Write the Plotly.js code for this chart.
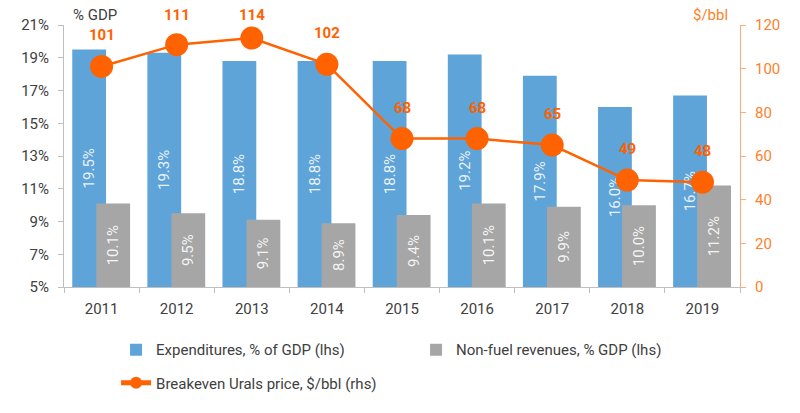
<!DOCTYPE html>
<html>
<head>
<meta charset="utf-8">
<script src="https://cdn.plot.ly/plotly-3.0.1.min.js"></script>
<style>
  html, body { margin: 0; padding: 0; background: #fff; }
  #chart { width: 800px; height: 413px; }
</style>
</head>
<body>
<div id="chart"></div>
<script>
var years = ["2011", "2012", "2013", "2014", "2015", "2016", "2017", "2018", "2019"];
var expenditures = [19.5, 19.3, 18.8, 18.8, 18.8, 19.2, 17.9, 16.0, 16.7];
var nonFuel = [10.1, 9.5, 9.1, 8.9, 9.4, 10.1, 9.9, 10.0, 11.2];
var breakeven = [101, 111, 114, 102, 68, 68, 65, 49, 48];

var blue = "#5FA4D9";
var grey = "#A6A6A6";
var orange = "#FF6200";
var font = "Roboto, 'Noto Sans', sans-serif";

var leftMin = 5, leftMax = 21, rightMax = 120;
var H = 413, marginT = 25, marginB = 126;
var plotH = H - marginT - marginB;

function pct(v) { return v.toFixed(1) + "%"; }

// bars start at the axis floor so their labels sit in the visible part
var barBase = leftMin;

var traces = [
    {
        type: "bar",
        name: "Expenditures, % of GDP (lhs)",
        x: years,
        y: expenditures.map(function (v) { return v - barBase; }),
        base: barBase,
        width: 0.45,
        offset: -0.39,
        marker: { color: blue },
        text: expenditures.map(pct),
        textposition: "inside",
        insidetextanchor: "middle",
        textangle: -90,
        constraintext: "none",
        textfont: { color: "rgba(255,255,255,0.88)", size: 15, family: font },
        legend: "legend",
    },
    {
        type: "bar",
        name: "Non-fuel revenues, % GDP (lhs)",
        x: years,
        y: nonFuel.map(function (v) { return v - barBase; }),
        base: barBase,
        width: 0.45,
        offset: -0.07,
        marker: { color: grey },
        text: nonFuel.map(pct),
        textposition: "inside",
        insidetextanchor: "middle",
        textangle: -90,
        constraintext: "none",
        textfont: { color: "rgba(255,255,255,0.9)", size: 15, family: font },
        legend: "legend",
    },
    {
        type: "scatter",
        mode: "lines+markers",
        name: "Breakeven Urals price, $/bbl (rhs)",
        x: years,
        y: breakeven,
        yaxis: "y2",
        line: { color: orange, width: 2.5 },
        marker: { color: orange, size: 23 },
        legend: "legend2",
    },
];

// value labels above the markers, kept below the top edge
var annotations = years.map(function (yr, i) {
    var px = marginT + (rightMax - breakeven[i]) / rightMax * plotH;
    return {
        x: i,
        y: breakeven[i],
        xref: "x",
        yref: "y2",
        text: String(breakeven[i]),
        showarrow: false,
        yshift: Math.min(31, px - 15),
        font: { color: orange, size: 15, family: font, weight: "bold" },
    };
});
annotations.push({
    xref: "paper", yref: "paper", x: 0.01, y: 1.04,
    xanchor: "left", yanchor: "middle", showarrow: false,
    text: "% GDP", font: { color: "#404040", size: 15, family: font },
});
annotations.push({
    xref: "paper", yref: "paper", x: 0.985, y: 1.04,
    xanchor: "right", yanchor: "middle", showarrow: false,
    text: "$/bbl", font: { color: "#FF7F2A", size: 15, family: font },
});

var layout = {
    width: 800,
    height: H,
    margin: { l: 64, r: 60, t: marginT, b: marginB },
    paper_bgcolor: "#fff",
    plot_bgcolor: "#fff",
    barmode: "overlay",
    font: { family: font, color: "#404040", size: 15 },
    xaxis: {
        type: "category",
        categoryarray: years,
        range: [-0.5, years.length - 0.5],
        showline: true,
        linecolor: "#BFBFBF",
        ticks: "outside",
        tickson: "boundaries",
        ticklen: 5,
        tickcolor: "#BFBFBF",
        showgrid: false,
        tickangle: 0,
        ticklabelstandoff: 8,
        tickfont: { size: 15, color: "#404040" },
    },
    yaxis: {
        range: [leftMin, leftMax],
        tick0: 5,
        dtick: 2,
        ticksuffix: "%",
        showgrid: false,
        zeroline: false,
        showline: true,
        linecolor: "#BFBFBF",
        ticks: "outside",
        ticklen: 5,
        tickcolor: "#BFBFBF",
        ticklabelstandoff: 6,
        tickfont: { size: 15, color: "#404040" },
    },
    yaxis2: {
        overlaying: "y",
        side: "right",
        range: [0, rightMax],
        tick0: 0,
        dtick: 20,
        showgrid: false,
        zeroline: false,
        showline: true,
        linecolor: "#FFAA77",
        ticks: "outside",
        ticklen: 5,
        tickcolor: "#FFAA77",
        ticklabelstandoff: 6,
        tickfont: { size: 15, color: "#FF7F2A" },
    },
    legend: {
        orientation: "h",
        x: 0.077, y: -0.24,
        xanchor: "left", yanchor: "middle",
        entrywidth: 255,
        font: { size: 15, color: "#404040" },
    },
    legend2: {
        orientation: "h",
        x: 0.077, y: -0.366,
        xanchor: "left", yanchor: "middle",
        itemsizing: "constant",
        font: { size: 15, color: "#404040" },
    },
    annotations: annotations,
    showlegend: true,
};

Plotly.newPlot("chart", traces, layout, { displayModeBar: false, staticPlot: true });
</script>
</body>
</html>
